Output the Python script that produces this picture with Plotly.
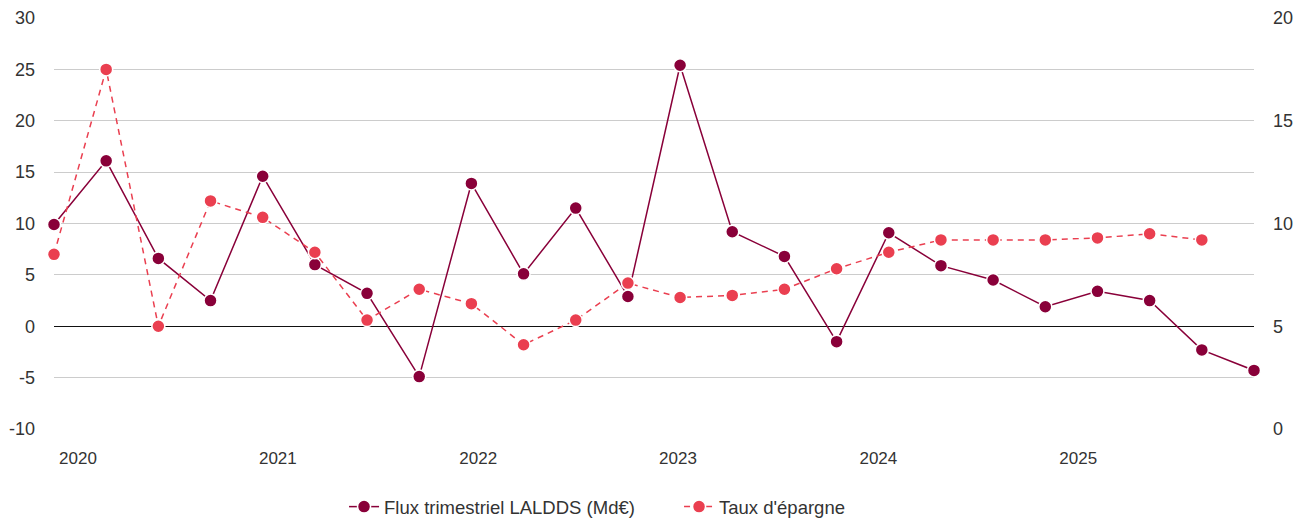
import plotly.graph_objects as go

# Quarterly series, 2020 Q1 -> 2025 Q4 (index 0..23)
quarters = list(range(24))
flux_lalds = [9.9, 16.1, 6.6, 2.5, 14.6, 6.0, 3.2, -4.9,
              13.9, 5.1, 11.5, 2.9, 25.4, 9.2, 6.8, -1.5,
              9.1, 5.9, 4.5, 1.9, 3.4, 2.5, -2.3, -4.3]
taux_epargne = [8.5, 17.5, 5.0, 11.1, 10.3, 8.6, 5.3, 6.8,
                6.1, 4.1, 5.3, 7.1, 6.4, 6.5, 6.8, 7.8,
                8.6, 9.2, 9.2, 9.2, 9.3, 9.5, 9.2]
year_labels = ["2020", "2021", "2022", "2023", "2024", "2025"]
year_pos = [0.46, 4.29, 8.13, 11.96, 15.8, 19.63]
left_ticks = [-10, -5, 0, 5, 10, 15, 20, 25, 30]
right_ticks = [0, 5, 10, 15, 20]

DARK = "#890039"
RED = "#ea3f50"
FONT = "Liberation Sans, Arial, sans-serif"
TXT = "#333333"

fig = go.Figure()
fig.add_trace(go.Scatter(
    x=quarters, y=flux_lalds, mode="lines+markers",
    name="Flux trimestriel LALDDS (Md€)",
    line=dict(color=DARK, width=1.5),
    marker=dict(color=DARK, size=13, line=dict(color="white", width=1.5)),
    cliponaxis=False))
fig.add_trace(go.Scatter(
    x=quarters[:len(taux_epargne)], y=taux_epargne, mode="lines+markers",
    name="Taux d'épargne", yaxis="y2",
    line=dict(color=RED, width=1.5, dash="6px,5px"),
    marker=dict(color=RED, size=13, line=dict(color="white", width=1.5)),
    cliponaxis=False))

fig.update_layout(
    width=1307, height=520,
    margin=dict(l=54, r=53, t=18, b=91, autoexpand=False),
    paper_bgcolor="white", plot_bgcolor="white",
    font=dict(family=FONT, size=18, color=TXT),
    showlegend=True,
    legend=dict(orientation="h", x=0.2417, xanchor="left", y=-0.19, yanchor="middle",
                font=dict(size=18.5, color=TXT), itemwidth=30, entrywidth=290,
                bgcolor="rgba(0,0,0,0)"),
    xaxis=dict(range=[0, 23], showgrid=False, zeroline=False, showline=False,
               tickmode="array", tickvals=year_pos, ticktext=year_labels,
               ticks="", ticklabelstandoff=17, tickfont=dict(size=17),
               automargin=False),
    yaxis=dict(range=[-10, 30], tickmode="array", tickvals=left_ticks,
               ticktext=[str(v) for v in left_ticks], showgrid=True,
               gridcolor="#cccccc", gridwidth=1,
               zeroline=True, zerolinecolor="#111111", zerolinewidth=1.2,
               showline=False, ticks="", ticklabelstandoff=18, automargin=False),
    yaxis2=dict(range=[0, 20], tickmode="array", tickvals=right_ticks,
                ticktext=[str(v) for v in right_ticks], overlaying="y", side="right",
                showgrid=False, zeroline=False, showline=False, ticks="",
                ticklabelstandoff=18, automargin=False),
)

# drop the browser's default 8px body margin so the figure sits at (0, 0)
fig.write_html("out.html", config={"displayModeBar": False},
               post_script="document.body.style.margin='0';document.body.style.overflow='hidden';")
